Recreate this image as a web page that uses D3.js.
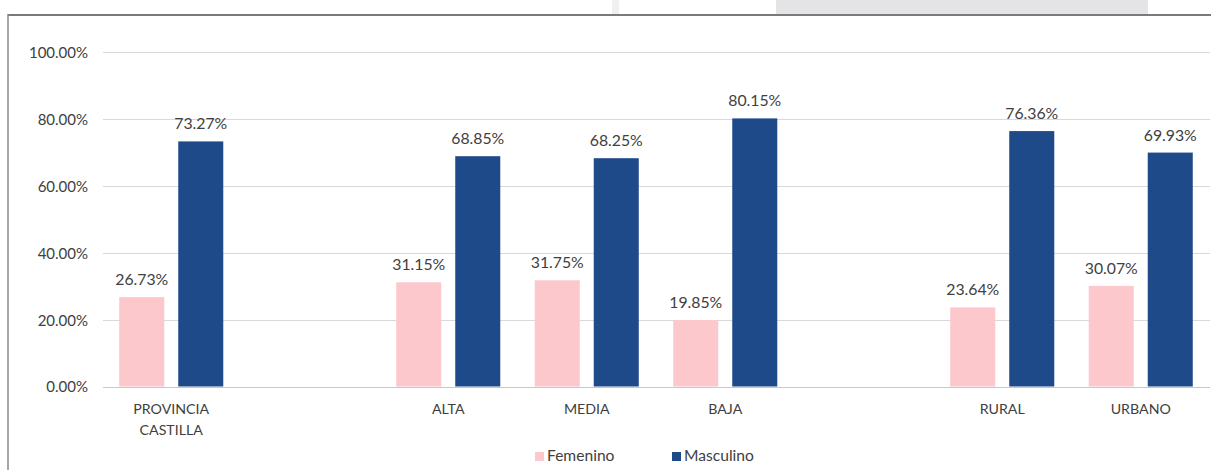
<!DOCTYPE html>
<html>
<head>
<meta charset="utf-8">
<script src="https://cdn.jsdelivr.net/npm/d3@7"></script>
<style>
  html, body { margin: 0; padding: 0; background: #ffffff; }
  svg { display: block; }
  text { font-family: Lato, "Open Sans", sans-serif; fill: #404040; }
</style>
</head>
<body>
<svg id="chart" width="1211" height="470"></svg>
<script>
const categories = ["PROVINCIA CASTILLA", "gap1", "ALTA", "MEDIA", "BAJA", "gap2", "RURAL", "URBANO"];
const categoryLabels = [["PROVINCIA", "CASTILLA"], [], ["ALTA"], ["MEDIA"], ["BAJA"], [], ["RURAL"], ["URBANO"]];
const femenino = [26.73, null, 31.15, 31.75, 19.85, null, 23.64, 30.07];
const masculino = [73.27, null, 68.85, 68.25, 80.15, null, 76.36, 69.93];
const seriesNames = ["Femenino", "Masculino"];
const yTicks = [0, 20, 40, 60, 80, 100];

const colors = { Femenino: "#fcc8cc", Masculino: "#1f4a8a" };

const svg = d3.select("#chart");
const W = 1211, H = 470;

// header strip (background outside the chart frame)
svg.append("rect").attr("x", 776).attr("y", 0).attr("width", 372).attr("height", 14).attr("fill", "#e4e4e6");
svg.append("rect").attr("x", 612).attr("y", 0).attr("width", 7).attr("height", 14).attr("fill", "#f0f0f2");

const x = d3.scaleBand().domain(categories).range([102, 1210]).paddingInner(0).paddingOuter(0);
const xi = d3.scaleBand().domain(seriesNames).range([0, x.bandwidth()]).paddingInner(0.237).paddingOuter(0.292);
const y = d3.scaleLinear().domain([0, 100]).range([386.5, 52]);

// gridlines
const grid = svg.append("g");
grid.selectAll("line").data(yTicks).join("line")
  .attr("x1", 103).attr("x2", 1210)
  .attr("y1", d => Math.round(y(d)) + 0.5).attr("y2", d => Math.round(y(d)) + 0.5)
  .attr("stroke", d => d === 0 ? "#c8c8c8" : "#d9d9d9").attr("stroke-width", 1);

// y axis labels
const yAxis = d3.axisLeft(y).tickValues(yTicks).tickSize(0).tickPadding(0)
  .tickFormat(d => d.toFixed(2) + "%");
const yg = svg.append("g").attr("transform", "translate(88,0)").call(yAxis);
yg.select(".domain").remove();
yg.selectAll("text").style("font-size", "15px").style("font-family", "Lato, sans-serif").attr("fill", "#404040").attr("dy", "0.36em");

// bars
const rows = categories.map((c, i) => ({ c, i, Femenino: femenino[i], Masculino: masculino[i] }));
const groups = svg.append("g").selectAll("g").data(rows).join("g")
  .attr("transform", d => `translate(${x(d.c)},0)`);

groups.selectAll("rect").data(d => seriesNames.filter(s => d[s] != null).map(s => ({ s, v: d[s] })))
  .join("rect")
  .attr("x", d => xi(d.s))
  .attr("width", xi.bandwidth())
  .attr("y", d => y(d.v))
  .attr("height", d => y(0) - y(d.v))
  .attr("fill", d => colors[d.s]);

groups.selectAll("text.lbl").data(d => seriesNames.filter(s => d[s] != null).map(s => ({ s, v: d[s] })))
  .join("text").attr("class", "lbl")
  .attr("x", d => xi(d.s) + xi.bandwidth() / 2)
  .attr("y", d => y(d.v) - 12)
  .attr("text-anchor", "middle")
  .style("font-size", "15.8px")
  .text(d => d.v.toFixed(2) + "%");

// category labels
const cat = svg.append("g").selectAll("text").data(rows).join("text")
  .attr("x", d => x(d.c) + x.bandwidth() / 2)
  .attr("y", 414)
  .attr("text-anchor", "middle")
  .style("font-size", "14.2px");
cat.selectAll("tspan").data(d => categoryLabels[d.i].map((t, k) => ({ t, k, cx: x(d.c) + x.bandwidth() / 2 })))
  .join("tspan")
  .attr("x", d => d.cx)
  .attr("dy", d => d.k === 0 ? 0 : 21)
  .text(d => d.t);

// legend
const legend = svg.append("g");
const legendItems = [{ s: "Femenino", x: 535 }, { s: "Masculino", x: 672 }];
legend.selectAll("rect").data(legendItems).join("rect")
  .attr("x", d => d.x).attr("y", 452).attr("width", 9).attr("height", 9)
  .attr("fill", d => colors[d.s]);
legend.selectAll("text").data(legendItems).join("text")
  .attr("x", d => d.x + 12).attr("y", 461)
  .style("font-size", "15.6px")
  .text(d => d.s);

// chart frame
svg.append("line").attr("x1", 8).attr("x2", W).attr("y1", 15).attr("y2", 15).attr("stroke", "#7a7a7a").attr("stroke-width", 2);
svg.append("line").attr("x1", 8).attr("x2", 8).attr("y1", 14).attr("y2", H).attr("stroke", "#8a8a8a").attr("stroke-width", 1.5);
</script>
</body>
</html>
